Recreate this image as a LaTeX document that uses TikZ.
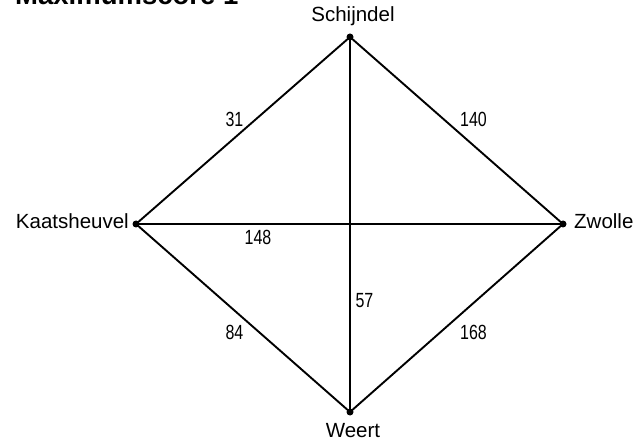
\documentclass[tikz,border=0pt]{standalone}
\usepackage{fontspec}
\setmainfont{Liberation Sans}
\newfontfamily\numfont[FakeStretch=0.78]{Liberation Sans}
\begin{document}
\begin{tikzpicture}[x=1pt,y=-1pt,
  city/.style={circle,fill=black,inner sep=0pt,minimum size=7pt},
  citylabel/.style={inner sep=0pt,font=\fontsize{20.5}{20.5}\selectfont},
  weight/.style={inner sep=0pt,font=\numfont\fontsize{20.5}{20.5}\selectfont},
  edge/.style={line width=1.9pt,black}]
\useasboundingbox (0,0) rectangle (638,441);
\node[anchor=base west,inner sep=0pt,font=\bfseries\fontsize{27.5}{27.5}\selectfont] (title) at (15,5) {Maximumscore 1};
\coordinate (S) at (350,37);
\coordinate (K) at (136,224);
\coordinate (Z) at (563,224);
\coordinate (W) at (350,412);
\draw[edge] (S) -- (K);
\draw[edge] (S) -- (Z);
\draw[edge] (S) -- (W);
\draw[edge] (K) -- (Z);
\draw[edge] (K) -- (W);
\draw[edge] (Z) -- (W);
\node[city] (Sd) at (S) {};
\node[city] (Kd) at (K) {};
\node[city] (Zd) at (Z) {};
\node[city] (Wd) at (W) {};
\node[citylabel,anchor=base] (Sl) at (353,22) {Schijndel};
\node[citylabel,anchor=base east] (Kl) at (129,229) {Kaatsheuvel};
\node[citylabel,anchor=base west] (Zl) at (574,229) {Zwolle};
\node[citylabel,anchor=base] (Wl) at (353,437) {Weert};
\node[weight] (w31) at (234.5,119) {31};
\node[weight] (w140) at (473.5,119) {140};
\node[weight] (w148) at (258,237) {148};
\node[weight] (w57) at (364.5,301) {57};
\node[weight] (w84) at (234.5,332.5) {84};
\node[weight] (w168) at (473.5,332.5) {168};
\end{tikzpicture}
\end{document}
